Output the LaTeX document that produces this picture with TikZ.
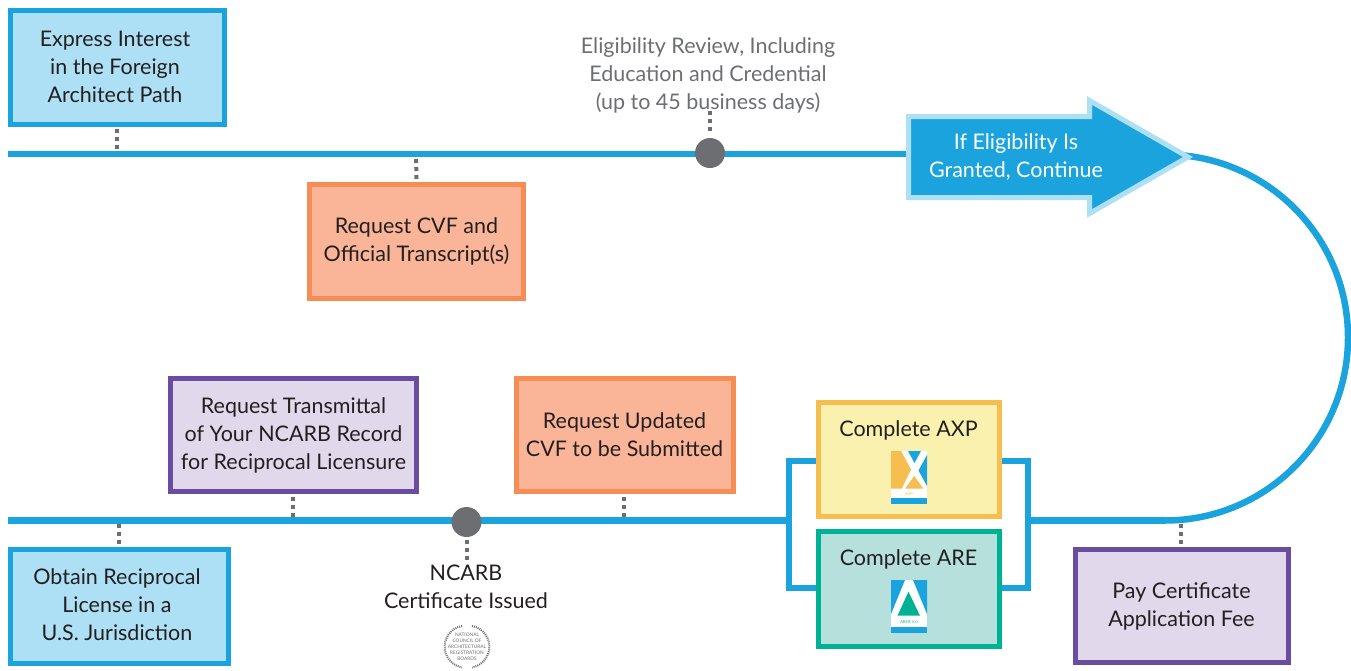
\documentclass[tikz,border=0pt]{standalone}
\usepackage{fontspec}
\setmainfont{Lato}
\definecolor{lineblue}{HTML}{1BA3DD}
\definecolor{paleblue}{HTML}{AEE0F5}
\definecolor{orangeline}{HTML}{F68D55}
\definecolor{orangefill}{HTML}{FAB598}
\definecolor{purpleline}{HTML}{6A4DA0}
\definecolor{purplefill}{HTML}{E2D8EB}
\definecolor{yellowline}{HTML}{F6BE4F}
\definecolor{yellowfill}{HTML}{FBF1AE}
\definecolor{greenline}{HTML}{00B294}
\definecolor{greenfill}{HTML}{B6E0DC}
\definecolor{dotgray}{HTML}{6D6E71}
\definecolor{inkc}{HTML}{231F20}
\tikzset{
  x=1pt,y=-1pt,
  stepbox/.style={draw,line width=5pt,inner sep=0pt,minimum width=#1},
  stepbox/.default=214pt,
  bluebox/.style={draw=lineblue,fill=paleblue},
  orangebox/.style={draw=orangeline,fill=orangefill},
  purplebox/.style={draw=purpleline,fill=purplefill},
  flow/.style={draw=lineblue,line width=6.5pt},
  tick/.style={draw=dotgray,line width=4pt,dash pattern=on 4pt off 4pt},
  blackdot/.style={circle,fill=dotgray,minimum size=30pt,inner sep=0pt},
  plain/.style={align=center,inner sep=0pt,text=inkc,font=\fontsize{21.5}{28}\selectfont},
}
\begin{document}
\begin{tikzpicture}
\useasboundingbox (0,0) rectangle (1351,670);
% main lines
\coordinate (l1) at (8,154);
\coordinate (l2) at (8,520.5);
\coordinate (arcs) at (1165,154.5);
\coordinate (arce) at (1165,520.5);
\coordinate (brL) at (789,520.5);
\coordinate (brR) at (1028,520.5);
% boxes
\node[stepbox=214pt,minimum height=114pt,bluebox] (express) at (117.5,67.5) {};
\node[stepbox=214pt,minimum height=114pt,orangebox] (cvf) at (416.5,241.5) {};
\node[stepbox=246pt,minimum height=113pt,purplebox] (trans) at (293.5,435) {};
\node[stepbox=217pt,minimum height=113pt,orangebox] (upd) at (625,435) {};
\node[stepbox=218pt,minimum height=114pt,bluebox] (obtain) at (119.5,606.5) {};
\node[stepbox=213pt,minimum height=113pt,purplebox] (pay) at (1182,606) {};
\node[plain] (expresst) at (115,66.5) {Express Interest\\in the Foreign\\Architect Path};
\node[plain] (cvft) at (416.5,241.5) {Request CVF and\\Official Transcript(s)};
\node[plain] (transt) at (293.5,435.5) {Request Transmittal\\of Your NCARB Record\\for Reciprocal Licensure};
\node[plain] (updt) at (624.5,434.5) {Request Updated\\CVF to be Submitted};
\node[plain] (obtaint) at (117,604.5) {Obtain Reciprocal\\License in a\\U.S. Jurisdiction};
\node[plain] (payt) at (1181.5,606) {Pay Certificate\\Application Fee};
% bracket and lines
\draw[flow] (l1) -- (907,154);
\draw[flow] (l2) -- (brL);
\draw[flow] (brR) -- (arce);
\draw[flow] (arcs) arc[start angle=-90,end angle=90,radius=183];
\draw[flow] (816,461) -| (brL) |- (816,588);
\draw[flow] (1002,461) -| (brR) |- (1002,588);
% AXP / ARE
\node[stepbox=181pt,minimum height=114pt,draw=yellowline,fill=yellowfill] (axp) at (909,459.5) {};
\node[stepbox=181pt,minimum height=115pt,draw=greenline,fill=greenfill] (are) at (909,589) {};
\node[plain] (axpt) at (908.5,430) {Complete AXP};
\node[plain] (aret) at (908.5,559) {Complete ARE};
% AXP icon
\fill[white] (891,451) rectangle (927,504);
\fill[yellowline] (891,451) -- (901,451) -- (911,469.5) -- (901.7,488.7) -- (891,488.7) -- cycle;
\fill[lineblue] (908,451) -- (921,451) -- (914.5,463) -- cycle;
\fill[lineblue] (927,455) -- (927,486) -- (918.5,470.5) -- cycle;
\fill[yellowline] (914.3,476) -- (923.3,488.7) -- (905,488.7) -- cycle;
\fill[lineblue] (891,498) rectangle (927,504);
\node[inner sep=0pt,text=yellowline,font=\fontsize{4}{4}\selectfont] (axpm) at (909,493.7) {AXP};
% ARE icon
\fill[white] (891,580) rectangle (927,633);
\fill[lineblue] (891,580) -- (905,580) -- (891,614) -- cycle;
\fill[lineblue] (927,580) -- (913,580) -- (927,614) -- cycle;
\fill[greenline] (908.5,591.7) -- (920,615.7) -- (897.5,615.7) -- cycle;
\fill[lineblue] (891,627) rectangle (927,633);
\node[inner sep=0pt,text=greenline,font=\fontsize{4}{4}\selectfont] (arem) at (909,622.5) {ARE® 5.0};
% arrow
\draw[draw=paleblue,fill=lineblue,line width=5pt,miter limit=10]
  (908.5,116.5) -- (1089.5,116.5) -- (1089.5,100.5) -- (1188,157) -- (1089.5,213.5) -- (1089.5,197.5) -- (908.5,197.5) -- cycle;
\node[plain,text=white] (arrowt) at (1016,157) {If Eligibility Is\\Granted, Continue};
% dots
\node[blackdot] (d1) at (710,153) {};
\node[blackdot] (d2) at (466.5,522) {};
\node[plain,text=dotgray] (elig) at (708,75) {Eligibility Review, Including\\Education and Credential\\(up to 45 business days)};
\node[plain] (cert) at (466,587) {NCARB\\Certificate Issued};
% ticks
\coordinate (t1) at (117,151);
\coordinate (t2) at (416,157);
\coordinate (t3) at (293,517);
\coordinate (t4) at (624,517);
\coordinate (t5) at (119,524);
\coordinate (t6) at (1181,524);
\draw[tick] (express.south) ++(-0.5,2) -- (t1);
\draw[tick] (cvf.north) ++(0,-3) -- (t2);
\draw[tick] (trans.south) ++(-0.5,3) -- (t3);
\draw[tick] (upd.south) ++(-1,3) -- (t4);
\draw[tick] (obtain.north) ++(-0.5,-3) -- (t5);
\draw[tick] (pay.north) ++(-1,-3) -- (t6);
\draw[tick] (d1.north) ++(0,-7) -- ++(0,-22);
\draw[tick] (d2.south) ++(0,3) -- ++(0,22);
% seal
\begin{scope}
\clip (430,620) rectangle (505,670);
\draw[dotgray,line width=2pt,dash pattern=on 1pt off 1pt] (462,626) arc[start angle=-100,end angle=-260,radius=21];
\draw[dotgray,line width=2pt,dash pattern=on 1pt off 1pt] (472,626) arc[start angle=-80,end angle=80,radius=21];
\node[inner sep=0pt,align=center,text=dotgray,font=\fontsize{4.8}{6.1}\selectfont] (seal) at (467,647) {NATIONAL\\COUNCIL OF\\ARCHITECTURAL\\REGISTRATION\\BOARDS};
\end{scope}
\end{tikzpicture}
\end{document}
